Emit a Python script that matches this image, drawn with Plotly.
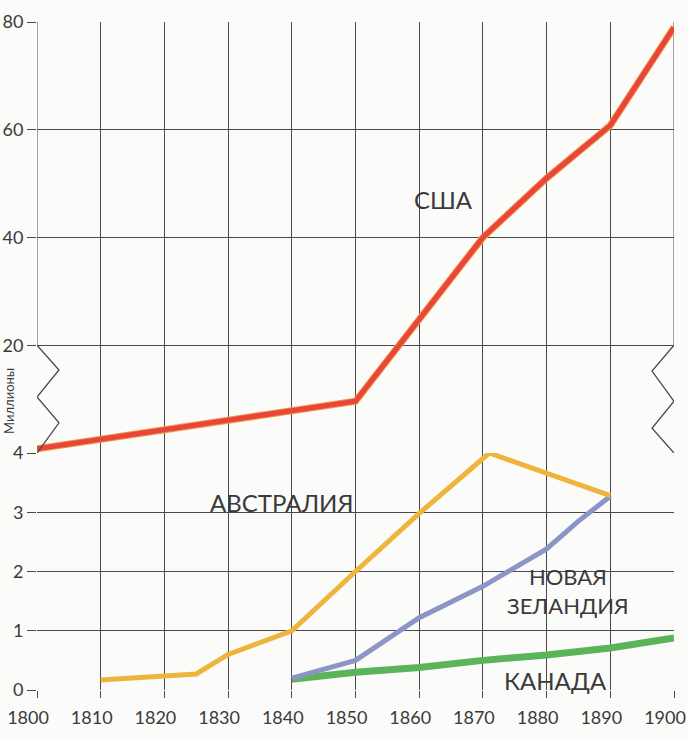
import plotly.graph_objects as go

# Population, millions. Upper panel (USA) is drawn on a compressed scale
# whose baseline sits on the "4" line of the lower panel.
usa_years = [1800, 1850, 1870, 1880, 1890, 1900]
usa_values = [0.8, 9.6, 40.0, 51.0, 60.8, 79.0]

aus_years = [1810, 1825, 1830, 1840, 1850, 1860, 1871, 1890]
aus_values = [0.17, 0.27, 0.6, 1.0, 2.0, 2.98, 4.0, 3.28]

nz_years = [1840, 1850, 1860, 1870, 1880, 1885, 1890]
nz_values = [0.2, 0.5, 1.22, 1.75, 2.38, 2.85, 3.27]

can_years = [1840, 1850, 1860, 1870, 1880, 1890, 1900]
can_values = [0.18, 0.3, 0.38, 0.5, 0.59, 0.71, 0.88]

year_ticks = list(range(1800, 1901, 10))
lower_ticks = [0, 1, 2, 3, 4]
upper_ticks = [20, 40, 60, 80]

FONT = "Lato"
INK = "#3a3a3a"
GRID = "#4a4a4a"

fig = go.Figure()

# USA on the upper panel
fig.add_trace(go.Scatter(x=usa_years, y=usa_values, xaxis="x2", yaxis="y2",
                         mode="lines", line=dict(color="#f29a44", width=7),
                         hoverinfo="skip", showlegend=False))
fig.add_trace(go.Scatter(x=usa_years, y=usa_values, xaxis="x2", yaxis="y2",
                         mode="lines", line=dict(color="#e8453c", width=5),
                         showlegend=False))

# Lower panel series
fig.add_trace(go.Scatter(x=can_years, y=can_values, mode="lines",
                         line=dict(color="#5cb45a", width=7), showlegend=False))
fig.add_trace(go.Scatter(x=nz_years, y=nz_values, mode="lines",
                         line=dict(color="#8c95c6", width=5), showlegend=False))
fig.add_trace(go.Scatter(x=aus_years, y=aus_values, mode="lines",
                         line=dict(color="#eeb53c", width=5), cliponaxis=False,
                         showlegend=False))

split = 237 / 668

axis_common = dict(showline=False, zeroline=False, gridcolor=GRID, gridwidth=1,
                   ticks="outside", tickcolor=GRID, tickwidth=1, automargin=False,
                   tickfont=dict(family=FONT, size=18, color=INK))

fig.update_layout(
    width=687, height=740,
    margin=dict(l=37, r=13, t=22, b=50),
    paper_bgcolor="#fbfbfa", plot_bgcolor="#fbfbfa",
    xaxis=dict(range=[1800, 1900], tickvals=year_ticks, ticklen=7,
               ticklabelshift=-9, ticklabelstandoff=4, anchor="y", **axis_common),
    yaxis=dict(range=[0, 4], tickvals=lower_ticks, ticklen=9,
               domain=[0, split], anchor="x", **axis_common),
    xaxis2=dict(range=[1800, 1900], tickvals=year_ticks[1:-1], showticklabels=False,
                ticks="", anchor="y2", matches="x", showline=False, zeroline=False,
                automargin=False, gridcolor=GRID, gridwidth=1),
    yaxis2=dict(range=[0, 80], tickvals=upper_ticks, ticklen=9,
                domain=[split, 1], anchor="x2", **axis_common),
)

# Frame edges of the upper panel, interrupted by the scale break
for yr in (1800, 1900):
    fig.add_shape(type="line", xref="x2", yref="y2", x0=yr, x1=yr, y0=20, y1=80,
                  line=dict(color=GRID, width=1), layer="below")

fig.add_shape(type="path", xref="x2", yref="y2",
              path="M 1800,20 L 1803.45,15.4 L 1800,10.4 L 1803.45,5.6 L 1800,0",
              line=dict(color=GRID, width=1.3))
fig.add_shape(type="path", xref="x2", yref="y2",
              path="M 1900,20 L 1896.55,15.2 L 1900,9.6 L 1896.55,4.6 L 1900,0",
              line=dict(color=GRID, width=1.3))

labels = [
    ("США", 443, 199, 24),
    ("АВСТРАЛИЯ", 281, 502, 24),
    ("НОВАЯ<br>ЗЕЛАНДИЯ", 568, 591, 22),
    ("КАНАДА", 555, 680, 24),
]
for text, px, py, size in labels:
    fig.add_annotation(text=text, xref="paper", yref="paper",
                       x=(px - 37) / (674 - 37), y=1 - (py - 22) / 668,
                       showarrow=False, xanchor="center", yanchor="middle",
                       font=dict(family=FONT, size=size, color=INK))

fig.add_annotation(text="Миллионы", xref="paper", yref="paper",
                   x=(9 - 37) / (674 - 37), y=1 - (401 - 22) / 668,
                   showarrow=False, textangle=-90, xanchor="center", yanchor="middle",
                   font=dict(family=FONT, size=13, color=INK))

fig.write_html("out.html")
